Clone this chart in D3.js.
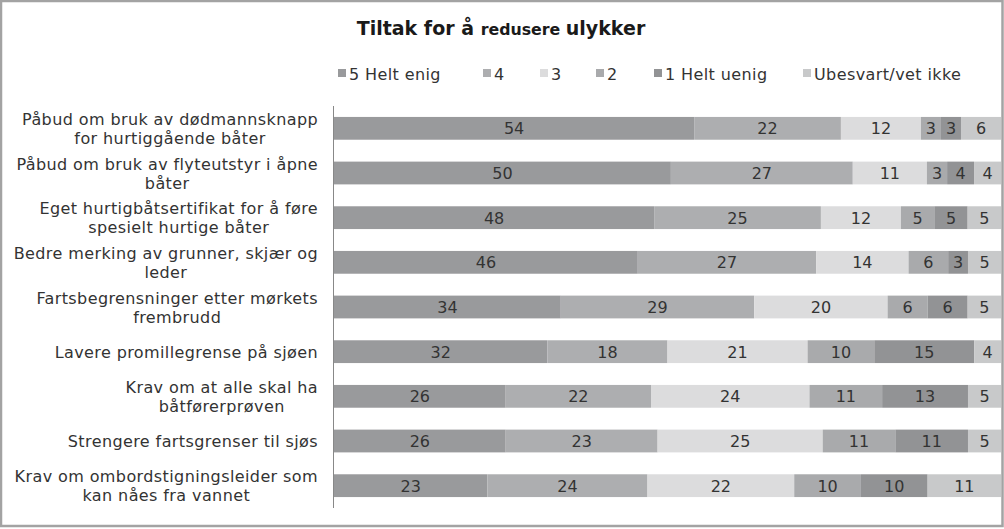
<!DOCTYPE html>
<html><head><meta charset="utf-8">
<script src="https://cdn.jsdelivr.net/npm/d3@7"></script>
<style>body{margin:0;background:#fff}svg{display:block}</style>
</head><body>
<svg id="c" width="1004" height="529"></svg>
<script>
const categories = [
  ["Påbud om bruk av dødmannsknapp","for hurtiggående båter"],
  ["Påbud om bruk av flyteutstyr i åpne","båter"],
  ["Eget hurtigbåtsertifikat for å føre","spesielt hurtige båter"],
  ["Bedre merking av grunner, skjær og","leder"],
  ["Fartsbegrensninger etter mørkets","frembrudd"],
  ["Lavere promillegrense på sjøen"],
  ["Krav om at alle skal ha","båtførerprøven"],
  ["Strengere fartsgrenser til sjøs"],
  ["Krav om ombordstigningsleider som","kan nåes fra vannet"]
];
const seriesNames = ["5 Helt enig","4","3","2","1 Helt uenig","Ubesvart/vet ikke"];
const helEnig   = [54,50,48,46,34,32,26,26,23];
const enig4     = [22,27,25,27,29,18,22,23,24];
const noytral3  = [12,11,12,14,20,21,24,25,22];
const uenig2    = [3,3,5,6,6,10,11,11,10];
const helUenig  = [3,4,5,3,6,15,13,11,10];
const ubesvart  = [6,4,5,5,5,4,5,5,11];
const seriesValues = [helEnig, enig4, noytral3, uenig2, helUenig, ubesvart];
const colors = ["#999a9c","#adaeb0","#dcdcdd","#a9aaac","#929395","#c8c9ca"];

const svg = d3.select("#c");
const font = "DejaVu Sans, Verdana, sans-serif";
const ls = 0.4;
// frame
svg.append("rect").attr("x",1).attr("y",1).attr("width",1001.5).attr("height",525)
  .attr("fill","#fff").attr("stroke","#a3a3a3").attr("stroke-width",2.5);

// title
const t = svg.append("text").attr("x",501).attr("y",35).attr("text-anchor","middle")
  .attr("font-family",font).attr("font-weight","bold").attr("fill","#1a1a1a");
t.append("tspan").attr("font-size",19).text("Tiltak for å ");
t.append("tspan").attr("font-size",15.8).text("redusere ");
t.append("tspan").attr("font-size",19).text("ulykker");

const x = d3.scaleLinear().domain([0,100]).range([334,1001]);
const y = d3.scaleBand().domain(d3.range(categories.length)).range([106,508]).paddingInner(0.49).paddingOuter(0.245);

const rows = categories.map((c,i)=>{
  const vals = seriesValues.map(s=>s[i]);
  const tot = d3.sum(vals);
  let acc = 0;
  return vals.map((v,j)=>{const o={i,j,v,x0:acc/tot*100,x1:(acc+v)/tot*100}; acc+=v; return o;});
});

const g = svg.append("g");
rows.forEach(r=>{
  g.selectAll(null).data(r).enter().append("rect")
    .attr("x",d=>x(d.x0)).attr("width",d=>x(d.x1)-x(d.x0))
    .attr("y",d=>y(d.i)).attr("height",y.bandwidth())
    .attr("fill",d=>colors[d.j]);
  g.selectAll(null).data(r).enter().append("text")
    .attr("x",d=>(x(d.x0)+x(d.x1))/2).attr("y",d=>y(d.i)+y.bandwidth()/2+6)
    .attr("text-anchor","middle").attr("font-family",font).attr("font-size",16)
    .attr("fill","#333").text(d=>d.v);
});

// axis
const ax = svg.append("g").attr("transform","translate(333.5,0)").call(d3.axisLeft(y).tickSize(0).tickFormat(""));
ax.select(".domain").attr("stroke","#888").attr("d","M0,106V508");

// category labels
categories.forEach((lines,i)=>{
  const cy = y(i)+y.bandwidth()/2;
  const grp = svg.append("g");
  const lh = 19;
  const texts = lines.map((l,k)=>grp.append("text").attr("font-family",font).attr("font-size",16)
    .attr("letter-spacing",ls).attr("fill","#333").attr("text-anchor","middle")
    .attr("y", cy + (k - (lines.length-1)/2)*lh + 6).text(l));
  const w = d3.max(texts, tx=>tx.node().getComputedTextLength());
  texts.forEach(tx=>tx.attr("x",318 - w/2));
});

// legend
const legX = [338,483,540,596,654,803];
seriesNames.forEach((n,j)=>{
  svg.append("rect").attr("x",legX[j]).attr("y",69).attr("width",8).attr("height",8).attr("fill",colors[j]);
  svg.append("text").attr("x",legX[j]+11).attr("y",80).attr("font-family",font).attr("font-size",16)
    .attr("letter-spacing",ls).attr("fill","#333").text(n);
});
</script>
</body></html>
